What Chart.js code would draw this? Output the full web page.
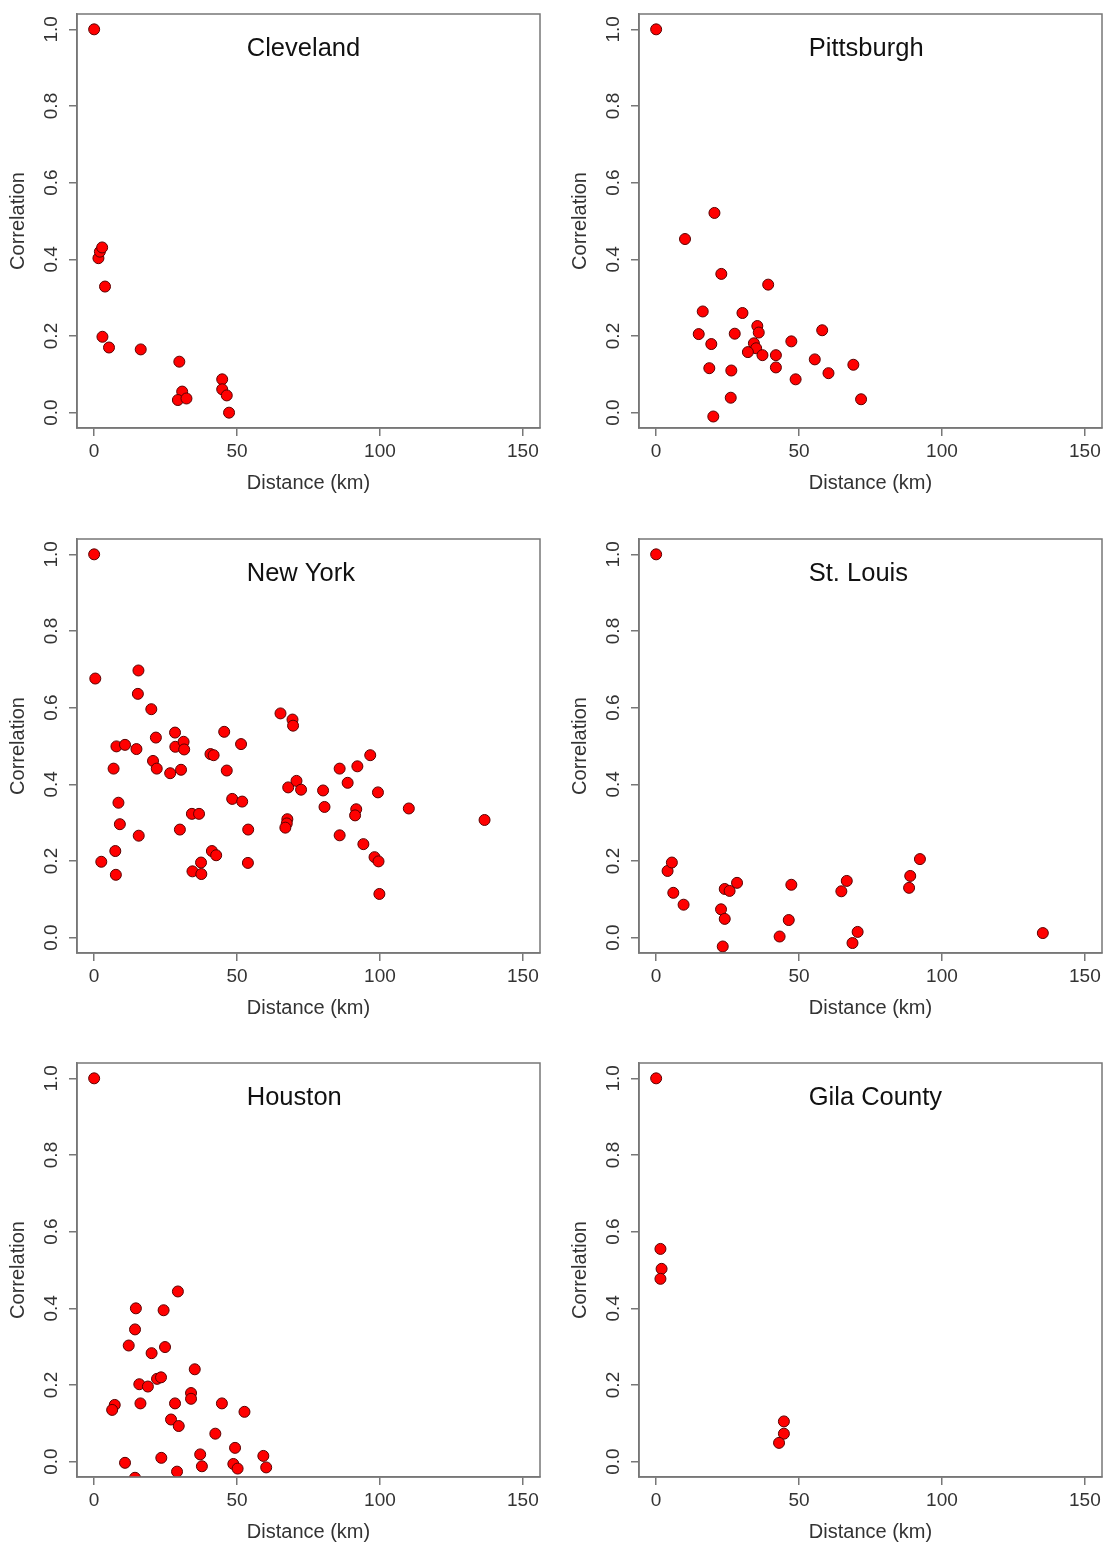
<!DOCTYPE html>
<html>
<head>
<meta charset="utf-8">
<script src="https://cdn.jsdelivr.net/npm/chart.js@4.4.1/dist/chart.umd.min.js"></script>
<style>
  body { margin: 0; background: #fff; width: 1109px; height: 1548px; position: relative; overflow: hidden; }
  .panel { position: absolute; width: 547px; height: 515px; }
</style>
</head>
<body>
<div class="panel" style="left:0px;top:0px"><canvas id="cleveland" width="547" height="515"></canvas></div>
<div class="panel" style="left:562px;top:0px"><canvas id="pittsburgh" width="547" height="515"></canvas></div>
<div class="panel" style="left:0px;top:525px"><canvas id="newyork" width="547" height="515"></canvas></div>
<div class="panel" style="left:562px;top:525px"><canvas id="stlouis" width="547" height="515"></canvas></div>
<div class="panel" style="left:0px;top:1049px"><canvas id="houston" width="547" height="515"></canvas></div>
<div class="panel" style="left:562px;top:1049px"><canvas id="gila" width="547" height="515"></canvas></div>
<script>
// tick positions shared by all panels
var xTicks = [0, 50, 100, 150];
var yTicks = [0, 0.2, 0.4, 0.6, 0.8, 1.0];

// distance (km) / correlation
var clevelandDist = [0, 1.5, 2.0, 2.8, 3.8, 2.9, 5.2, 16.3, 29.8, 30.8, 29.3, 32.3, 44.8, 44.8, 46.4, 47.2];
var clevelandCorr = [1.0, 0.403, 0.420, 0.431, 0.329, 0.198, 0.170, 0.165, 0.133, 0.055, 0.033, 0.037, 0.087, 0.061, 0.045, 0.0];

var pittsburghDist = [0, 20.4, 10.1, 22.8, 39.2, 16.3, 30.2, 35.4, 35.9, 14.9, 27.5, 58.1, 19.3, 34.2, 35.0, 32.1, 37.2, 41.9, 47.3, 18.6, 26.3, 41.9, 55.5, 69.0, 60.3, 48.8, 26.1, 71.7, 20.0];
var pittsburghCorr = [1.0, 0.521, 0.453, 0.362, 0.334, 0.264, 0.260, 0.226, 0.209, 0.205, 0.206, 0.215, 0.179, 0.181, 0.168, 0.158, 0.150, 0.150, 0.186, 0.116, 0.110, 0.118, 0.139, 0.125, 0.103, 0.087, 0.039, 0.035, -0.010];

var newYorkDist = [0, 0.4, 15.5, 15.3, 20.0, 2.5, 6.8, 7.8, 10.8, 14.8, 8.5, 9.0, 7.4, 7.6, 15.6,
  21.6, 20.6, 21.9, 26.6, 28.3, 28.4, 31.3, 31.5, 30.4, 30.0, 34.2, 36.7, 34.4, 37.4, 37.5,
  40.7, 41.8, 41.2, 42.7, 45.5, 46.4, 48.3, 51.4, 51.8, 53.9, 53.8, 65.2, 69.4, 69.6, 67.9,
  70.8, 72.4, 67.6, 67.4, 66.9, 80.1, 80.6, 85.9, 88.7, 92.1, 96.6, 85.9, 91.7, 91.3, 94.2,
  98.1, 99.5, 99.3, 99.8, 110.1, 136.6];
var newYorkCorr = [1.0, 0.676, 0.697, 0.636, 0.596, 0.198, 0.441, 0.499, 0.503, 0.492, 0.352, 0.296, 0.226, 0.164, 0.266,
  0.522, 0.461, 0.441, 0.429, 0.535, 0.498, 0.511, 0.491, 0.438, 0.282, 0.323, 0.323, 0.173, 0.196, 0.166,
  0.479, 0.476, 0.226, 0.215, 0.537, 0.436, 0.362, 0.505, 0.355, 0.282, 0.195, 0.585, 0.569, 0.553, 0.392,
  0.409, 0.386, 0.309, 0.298, 0.287, 0.384, 0.341, 0.441, 0.404, 0.447, 0.476, 0.267, 0.335, 0.319, 0.244,
  0.210, 0.199, 0.379, 0.114, 0.337, 0.307];

var stLouisDist = [0, 4.0, 5.5, 6.0, 9.6, 22.7, 24.0, 23.3, 24.0, 25.7, 28.3, 43.2, 46.4, 47.3, 64.8, 66.7, 68.7, 70.5, 88.5, 88.9, 92.3, 135.3];
var stLouisCorr = [1.0, 0.174, 0.196, 0.117, 0.086, 0.074, 0.049, -0.023, 0.127, 0.122, 0.143, 0.003, 0.046, 0.138, 0.121, 0.148, -0.014, 0.015, 0.130, 0.161, 0.205, 0.012];

var houstonDist = [0, 29.3, 14.6, 24.3, 14.3, 12.1, 24.8, 20.1, 35.2, 15.8, 18.8, 22.0, 23.4, 7.2, 6.3, 16.2, 28.3, 33.9,
  33.9, 44.7, 52.6, 26.9, 29.6, 42.4, 49.3, 23.5, 37.1, 59.2, 10.8, 37.7, 48.7, 50.2, 60.2, 29.0, 14.3];
var houstonCorr = [1.0, 0.444, 0.400, 0.395, 0.345, 0.303, 0.299, 0.283, 0.241, 0.202, 0.196, 0.216, 0.220, 0.148, 0.135, 0.152, 0.152, 0.179,
  0.164, 0.152, 0.130, 0.110, 0.093, 0.073, 0.036, 0.010, 0.019, 0.015, -0.003, -0.012, -0.006, -0.018, -0.015, -0.026, -0.042];

var gilaDist = [0, 1.5, 1.9, 1.5, 44.7, 44.7, 43.0];
var gilaCorr = [1.0, 0.555, 0.503, 0.477, 0.105, 0.073, 0.049];

var FONT = '"Liberation Sans", Arial, sans-serif';

// frame around the plot region plus the place name inside it
var frameAndName = {
  id: 'frameAndName',
  afterDraw: function(chart) {
    var ctx = chart.ctx;
    var a = chart.chartArea;
    ctx.save();
    ctx.strokeStyle = '#777';
    ctx.lineWidth = 1.5;
    ctx.strokeRect(a.left, a.top, a.right - a.left, a.bottom - a.top);
    ctx.fillStyle = '#111';
    ctx.font = '25.5px ' + FONT;
    ctx.textAlign = 'left';
    ctx.textBaseline = 'alphabetic';
    ctx.fillText(chart.options.plugins.frameAndName.text,
      chart.scales.x.getPixelForValue(53.4),
      chart.scales.y.getPixelForValue(0.93));
    ctx.restore();
  }
};

// fixed axis sizes so every panel's plot box lands in the same place
function fixHeight(scale) {
  scale.height = 87;
  scale.paddingLeft = 0;
  scale.paddingRight = 0;
}
function fixWidth(scale) {
  scale.width = 77;
  scale.paddingTop = 0;
  scale.paddingBottom = 0;
}

function makePanel(id, name, dist, corr) {
  var points = dist.map(function(d, i) {
    return { x: d, y: corr[i] };
  });
  return new Chart(document.getElementById(id), {
    type: 'scatter',
    data: {
      datasets: [{
        data: points,
        pointRadius: 5.5,
        pointBackgroundColor: '#ff0000',
        pointBorderColor: '#5a0000',
        pointBorderWidth: 1,
        clip: 0
      }]
    },
    options: {
      responsive: false,
      animation: false,
      layout: { padding: { top: 14, right: 7, left: 0, bottom: 0 } },
      plugins: {
        legend: { display: false },
        tooltip: { enabled: false },
        frameAndName: { text: name }
      },
      scales: {
        x: {
          type: 'linear',
          min: -6,
          max: 156,
          afterBuildTicks: function(scale) {
            scale.ticks = xTicks.map(function(v) { return { value: v }; });
          },
          afterFit: fixHeight,
          ticks: {
            font: { family: FONT, size: 19 },
            color: '#333',
            padding: 4,
            callback: function(v) { return String(v); }
          },
          grid: { drawOnChartArea: false, tickLength: 8, color: '#777', lineWidth: 1.5 },
          border: { color: '#777', width: 1.5 },
          title: {
            display: true,
            text: 'Distance (km)',
            color: '#333',
            font: { family: FONT, size: 20 },
            padding: { top: 0, bottom: 20 }
          }
        },
        y: {
          min: -0.04,
          max: 1.04,
          afterBuildTicks: function(scale) {
            scale.ticks = yTicks.map(function(v) { return { value: v }; });
          },
          afterFit: fixWidth,
          ticks: {
            font: { family: FONT, size: 19 },
            color: '#333',
            minRotation: 90,
            maxRotation: 90,
            crossAlign: 'center',
            padding: 4,
            callback: function(v) { return v.toFixed(1); }
          },
          grid: { drawOnChartArea: false, tickLength: 8, color: '#777', lineWidth: 1.5 },
          border: { color: '#777', width: 1.5 },
          title: {
            display: true,
            text: 'Correlation',
            color: '#333',
            font: { family: FONT, size: 20 },
            padding: { top: 6, bottom: 0 }
          }
        }
      }
    },
    plugins: [frameAndName]
  });
}

makePanel('cleveland', 'Cleveland', clevelandDist, clevelandCorr);
makePanel('pittsburgh', 'Pittsburgh', pittsburghDist, pittsburghCorr);
makePanel('newyork', 'New York', newYorkDist, newYorkCorr);
makePanel('stlouis', 'St. Louis', stLouisDist, stLouisCorr);
makePanel('houston', 'Houston', houstonDist, houstonCorr);
makePanel('gila', 'Gila County', gilaDist, gilaCorr);
</script>
</body>
</html>
